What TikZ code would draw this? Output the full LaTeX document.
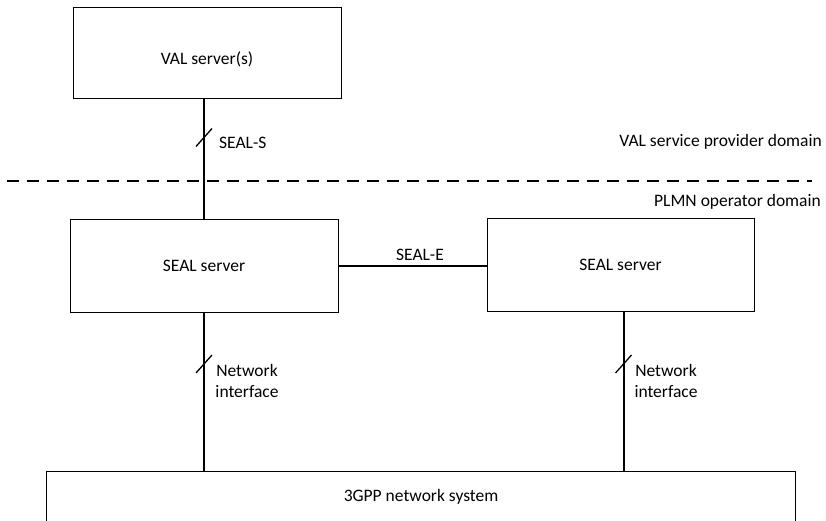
\documentclass[tikz,border=0pt]{standalone}
\usepackage{fontspec}
\setmainfont{Carlito}
\usetikzlibrary{calc}
\begin{document}
\begin{tikzpicture}[x=1pt,y=-1pt,
  box/.style={draw, line width=1pt, rectangle, inner sep=0pt},
  conn/.style={line width=1.3pt},
  slash/.style={line width=1.3pt},
  lbl/.style={inner sep=0pt, font=\fontsize{17.5}{21}\selectfont},
  every node/.style={font=\fontsize{17.5}{21}\selectfont}]
\useasboundingbox (0,0) rectangle (826,521);
% boxes
\node[box, minimum width=268pt, minimum height=91pt] (val) at (207,53.5) {};
\node[lbl] (valtxt) at (207,59) {VAL server(s)};
\node[box, minimum width=268pt, minimum height=92pt] (sealL) at (204,266) {SEAL server};
\node[box, minimum width=267pt, minimum height=92pt] (sealR) at (620.5,265) {SEAL server};
\node[inner sep=0pt, minimum width=748pt, minimum height=49pt] (net) at (421,496.5) {3GPP network system};
\draw[line width=1pt] (net.south west) -- (net.north west) -- (net.north east) -- (net.south east);
% dashed domain separator
\coordinate (dl) at (7,181);
\coordinate (dr) at (812,181);
\draw[line width=1.3pt, dash pattern=on 12pt off 8pt] (dl) -- (dr);
\node[lbl, anchor=east] (vsp) at (822,142) {VAL service provider domain};
\node[lbl, anchor=east] (plmn) at (821,202) {PLMN operator domain};
% connectors
\draw[conn] (sealL.north) -- (sealL.north |- val.south);
\draw[conn] (sealL.east) -- (sealL.east -| sealR.west);
\draw[conn] (sealL.south) -- (sealL.south |- net.north);
\coordinate (rbot) at ([xshift=3.5pt]sealR.south);
\draw[conn] (rbot) -- (rbot |- net.north);
% slashes
\coordinate (s1) at (204,137.5);
\coordinate (s2) at (204,364);
\coordinate (s3) at (623.5,364);
\foreach \s in {s1,s2,s3}
  \draw[slash] ($(\s)+(-8,9)$) -- ($(\s)+(8,-9)$);
% labels
\node[lbl, anchor=west] (sealS) at (219,143) {SEAL-S};
\node[lbl] (sealE) at (420,255) {SEAL-E};
\node[lbl, align=center] (niL) at (247,381) {Network\\interface};
\node[lbl, align=center] (niR) at (666,381) {Network\\interface};
\end{tikzpicture}
\end{document}
